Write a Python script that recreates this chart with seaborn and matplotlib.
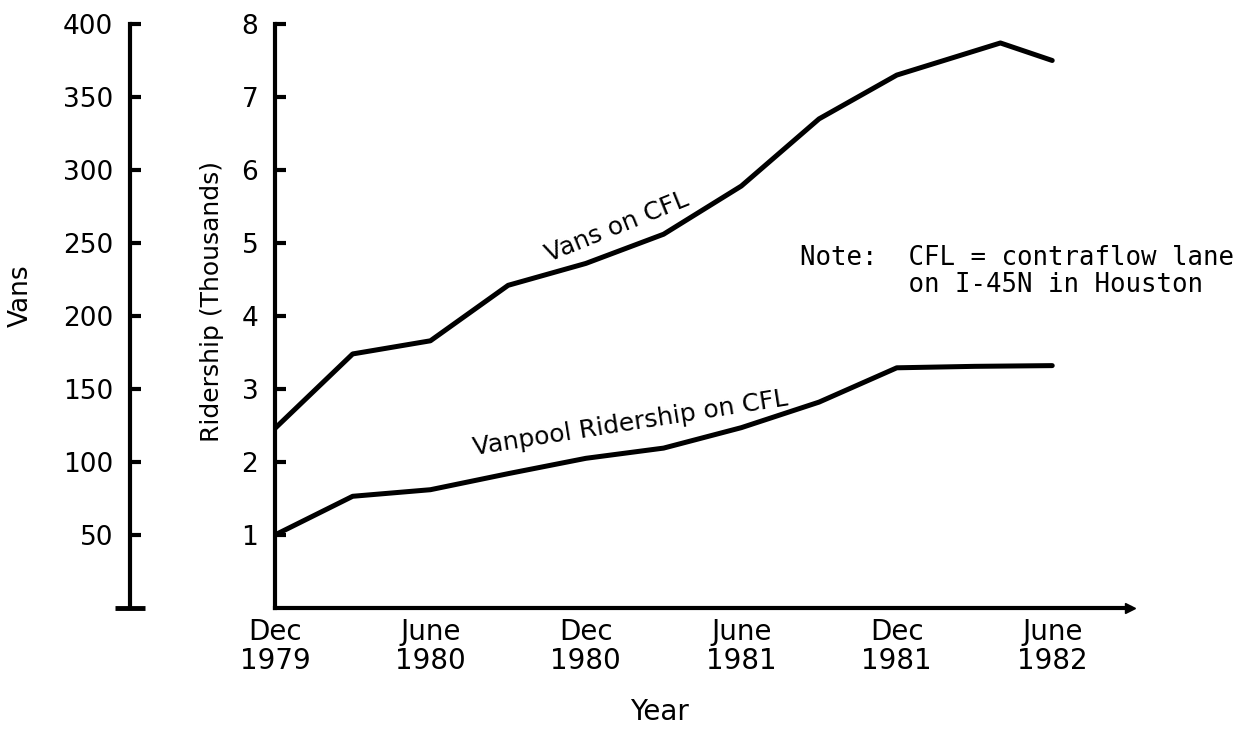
import numpy as np
import pandas as pd
import matplotlib
matplotlib.use("Agg")
import matplotlib.pyplot as plt
import seaborn as sns

# data (months after Dec 1979)
van_months = [0, 3, 6, 9, 12, 15, 18, 21, 24, 28, 30]
vans = [123, 174, 183, 221, 236, 256, 289, 335, 365, 387, 375]

rider_months = [0, 3, 6, 9, 12, 15, 18, 21, 24, 27, 30]
ridership = [1.0, 1.53, 1.62, 1.84, 2.05, 2.19, 2.47, 2.82, 3.29, 3.31, 3.32]

tick_months = [0, 6, 12, 18, 24, 30]
tick_labels = ["Dec\n1979", "June\n1980", "Dec\n1980", "June\n1981", "Dec\n1981", "June\n1982"]
minor_months = [3, 9, 15, 21, 27, 33]

vans_ticks = [50, 100, 150, 200, 250, 300, 350, 400]
rider_ticks = [1, 2, 3, 4, 5, 6, 7, 8]

df_vans = pd.DataFrame({"month": van_months, "vans": vans})
df_rider = pd.DataFrame({"month": rider_months, "ridership": ridership})

sns.set_style("white")
plt.rcParams['font.family'] = ['DejaVu Sans']
plt.rcParams['text.color'] = 'black'
plt.rcParams['axes.labelcolor'] = 'black'
plt.rcParams['xtick.color'] = 'black'
plt.rcParams['ytick.color'] = 'black'

fig = plt.figure(figsize=(12.59, 7.38), dpi=100)
ax = fig.add_axes([0.2184, 0.1762, 0.6791, 0.7913])
ax2 = ax.twinx()

sns.lineplot(data=df_rider, x="month", y="ridership", ax=ax, color="black", lw=3.6)
sns.lineplot(data=df_vans, x="month", y="vans", ax=ax2, color="black", lw=3.6)

ax.set_xlim(0, 33)
ax.set_ylim(0, 8)
ax2.set_ylim(0, 400)

# ridership axis (inner)
for s in ["top", "right"]:
    ax.spines[s].set_visible(False)
for s in ["left", "bottom"]:
    ax.spines[s].set_linewidth(3)
    ax.spines[s].set_color("black")
ax.set_yticks(rider_ticks)
ax.set_yticklabels([str(t) for t in rider_ticks])
ax.tick_params(axis="y", direction="in", length=8, width=3, pad=12, labelsize=19)
ax.set_xticks(tick_months)
ax.set_xticklabels(tick_labels, linespacing=1.05)
ax.set_xticks(minor_months, minor=True)
ax.tick_params(axis="x", which="both", direction="in", length=10, width=2.2, pad=7, labelsize=20)

# vans axis (outer)
for s in ["top", "right", "bottom"]:
    ax2.spines[s].set_visible(False)
ax2.spines["left"].set_visible(True)
ax2.spines["left"].set_position(("axes", -0.1696))
ax2.spines["left"].set_linewidth(3)
ax2.spines["left"].set_color("black")
ax2.yaxis.set_ticks_position("left")
ax2.yaxis.set_label_position("left")
ax2.set_yticks(vans_ticks)
ax2.set_yticklabels([str(t) for t in vans_ticks])
ax2.set_yticks([0], minor=True)
ax2.tick_params(axis="y", which="major", direction="in", length=8, width=3, pad=12, labelsize=19)
ax2.tick_params(axis="y", which="minor", direction="inout", length=22, width=3.5)

# arrow head at the end of the time axis
ax.plot([33], [0], marker=">", color="black", markersize=7, clip_on=False)

ax.set_ylabel("Ridership (Thousands)", fontsize=18)
ax.yaxis.set_label_coords(-0.060, 0.524)
ax2.set_ylabel("Vans", fontsize=19)
ax2.yaxis.set_label_coords(-0.282, 0.534)
ax.set_xlabel("Year", fontsize=20)
ax.xaxis.set_label_coords(0.45, -0.155)

ax.text(0.40, 0.652, "Vans on CFL", transform=ax.transAxes, rotation=22,
        rotation_mode="anchor", ha="center", va="center", fontsize=18)
ax.text(0.416, 0.317, "Vanpool Ridership on CFL", transform=ax.transAxes, rotation=9,
        rotation_mode="anchor", ha="center", va="center", fontsize=18)
ax.text(0.614, 0.622, "Note:  CFL = contraflow lane\n       on I-45N in Houston",
        transform=ax.transAxes, ha="left", va="top", fontsize=18.5,
        family=["DejaVu Sans Mono"], linespacing=1.05)

fig.savefig("out.png", dpi=100)
plt.close(fig)
